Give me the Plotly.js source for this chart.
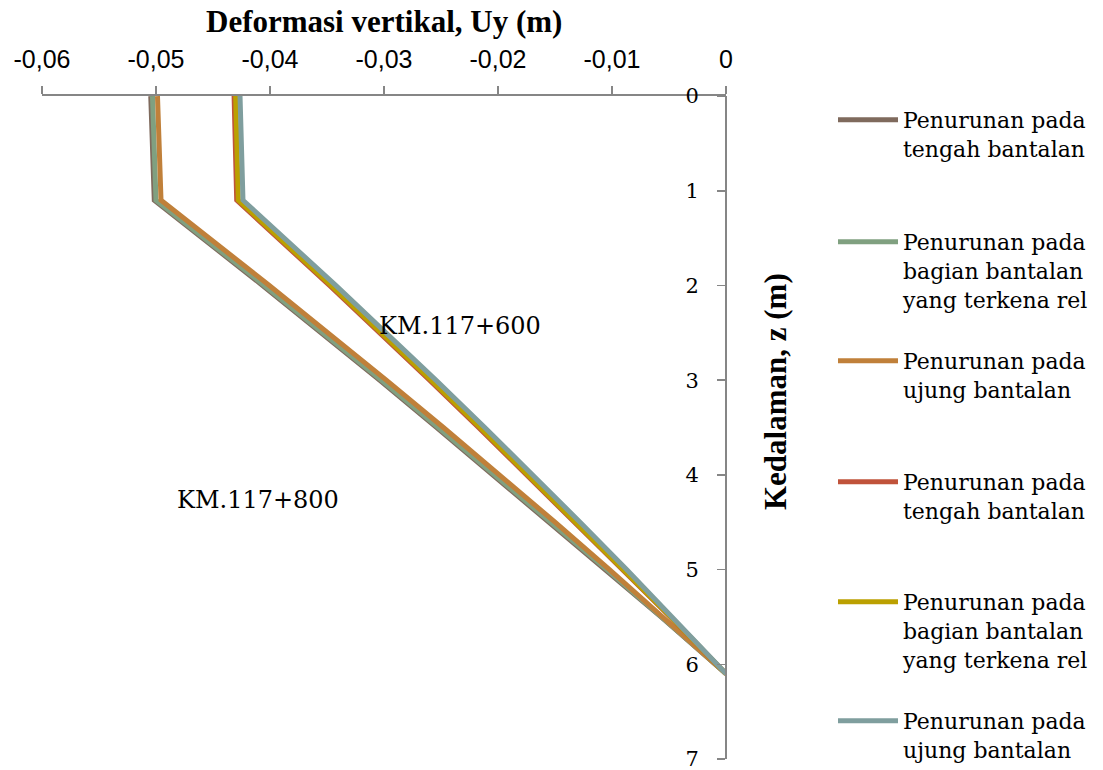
<!DOCTYPE html>
<html>
<head>
<meta charset="utf-8">
<script src="https://cdn.plot.ly/plotly-3.0.1.min.js"></script>
<style>html,body{margin:0;padding:0;background:#fff;}#chart{width:1103px;height:770px;}</style>
</head>
<body>
<div id="chart"></div>
<script>
// Depth z (m)
const depth = [0, 1.1, 2, 2.5, 3, 3.5, 4, 4.5, 5, 5.5, 6.1];

// KM.117+800 : vertical deformation Uy (m)
const km800_tengah = [-0.05046, -0.05015, -0.04065, -0.03548, -0.03039, -0.02538, -0.02044, -0.01545, -0.01053, -0.00570, 0];
const km800_rel    = [-0.05031, -0.05000, -0.04050, -0.03533, -0.03024, -0.02523, -0.02029, -0.01534, -0.01045, -0.00566, 0];
const km800_ujung  = [-0.04987, -0.04956, -0.04006, -0.03489, -0.02980, -0.02479, -0.01985, -0.01500, -0.01022, -0.00553, 0];

// KM.117+600 : vertical deformation Uy (m)
const km600_tengah = [-0.04315, -0.04292, -0.03478, -0.03035, -0.02600, -0.02171, -0.01750, -0.01322, -0.00901, -0.00488, 0];
const km600_rel    = [-0.04301, -0.04278, -0.03464, -0.03021, -0.02586, -0.02157, -0.01736, -0.01311, -0.00893, -0.00484, 0];
const km600_ujung  = [-0.04263, -0.04237, -0.03423, -0.02980, -0.02545, -0.02116, -0.01695, -0.01280, -0.00872, -0.00472, 0];

const seriesNames = [
  "Penurunan pada<br>tengah bantalan",
  "Penurunan pada<br>bagian bantalan<br>yang terkena rel",
  "Penurunan pada<br>ujung bantalan",
  "Penurunan pada<br>tengah bantalan",
  "Penurunan pada<br>bagian bantalan<br>yang terkena rel",
  "Penurunan pada<br>ujung bantalan"
];
const seriesColors = ["#7f6a5d", "#80a080", "#c0803a", "#c0533b", "#bba000", "#7f9e9e"];
const seriesData = [km800_tengah, km800_rel, km800_ujung, km600_tengah, km600_rel, km600_ujung];

const xTickVals = [-0.06, -0.05, -0.04, -0.03, -0.02, -0.01, 0];
const xTickText = ["-0,06", "-0,05", "-0,04", "-0,03", "-0,02", "-0,01", "0"];
const yTickVals = [0, 1, 2, 3, 4, 5, 6, 7];
const yTickText = ["0", "1", "2", "3", "4", "5", "6", "7"];

const serif = "DejaVu Serif, serif";
const boldSerif = "Liberation Serif, Times New Roman, serif";

// one legend box per entry (top pixel row of each legend box in the figure)
const legendIds = ["legend", "legend2", "legend3", "legend4", "legend5", "legend6"];
const legendTopPx = [99, 221, 340, 461, 581, 700];

const traces = seriesData.map((vals, i) => ({
  type: "scatter",
  mode: "lines",
  x: vals,
  y: depth,
  name: seriesNames[i],
  legend: legendIds[i],
  line: {color: seriesColors[i], width: 5},
  hoverinfo: "skip"
}));

const layout = {
  width: 1103,
  height: 770,
  margin: {l: 42, r: 377, t: 96, b: 11},
  paper_bgcolor: "#ffffff",
  plot_bgcolor: "#ffffff",
  showlegend: true,
  xaxis: {
    side: "top",
    range: [-0.06, 0],
    tickvals: xTickVals,
    ticktext: xTickText,
    ticks: "outside",
    ticklen: 8,
    tickcolor: "#868686",
    tickwidth: 1.5,
    ticklabelstandoff: 8,
    showline: true,
    linecolor: "#868686",
    linewidth: 2,
    showgrid: false,
    zeroline: false,
    tickfont: {family: "Liberation Sans, Arial, sans-serif", size: 25, color: "#000"},
    fixedrange: true
  },
  yaxis: {
    range: [7.0005, -0.0005],
    tickvals: yTickVals,
    ticktext: yTickText,
    anchor: "free",
    position: 1,
    side: "left",
    ticks: "outside",
    ticklen: 8,
    tickcolor: "#868686",
    tickwidth: 1.5,
    ticklabelstandoff: 14,
    ticklabeloverflow: "allow",
    showline: true,
    linecolor: "#868686",
    linewidth: 2,
    showgrid: false,
    zeroline: false,
    tickfont: {family: serif, size: 21, color: "#000"},
    fixedrange: true
  },
  annotations: [
    {text: "<b>Deformasi vertikal, Uy (m)</b>", xref: "paper", yref: "paper", x: 0.5, y: (759 - 22) / 663,
     xanchor: "center", yanchor: "middle", showarrow: false,
     font: {family: boldSerif, size: 31, color: "#000"}},
    {text: "<b>Kedalaman, z (m)</b>", xref: "paper", yref: "paper", x: (775 - 42) / 684, y: (759 - 392) / 663,
     xanchor: "center", yanchor: "middle", textangle: -90, showarrow: false,
     font: {family: boldSerif, size: 31, color: "#000"}},
    {text: "KM.117+600", xref: "paper", yref: "paper", x: (460 - 42) / 684, y: (759 - 326) / 663,
     xanchor: "center", yanchor: "middle", showarrow: false,
     font: {family: serif, size: 24, color: "#000"}},
    {text: "KM.117+800", xref: "paper", yref: "paper", x: (258 - 42) / 684, y: (759 - 500) / 663,
     xanchor: "center", yanchor: "middle", showarrow: false,
     font: {family: serif, size: 24, color: "#000"}}
  ]
};

legendIds.forEach((id, i) => {
  layout[id] = {
    xref: "container", yref: "container",
    x: 833 / 1103, xanchor: "left",
    y: 1 - legendTopPx[i] / 770, yanchor: "top",
    font: {family: serif, size: 22, color: "#000"},
    valign: "top",
    itemwidth: 60,
    bgcolor: "rgba(0,0,0,0)"
  };
});

Plotly.newPlot("chart", traces, layout, {displayModeBar: false, staticPlot: true});
</script>
</body>
</html>
